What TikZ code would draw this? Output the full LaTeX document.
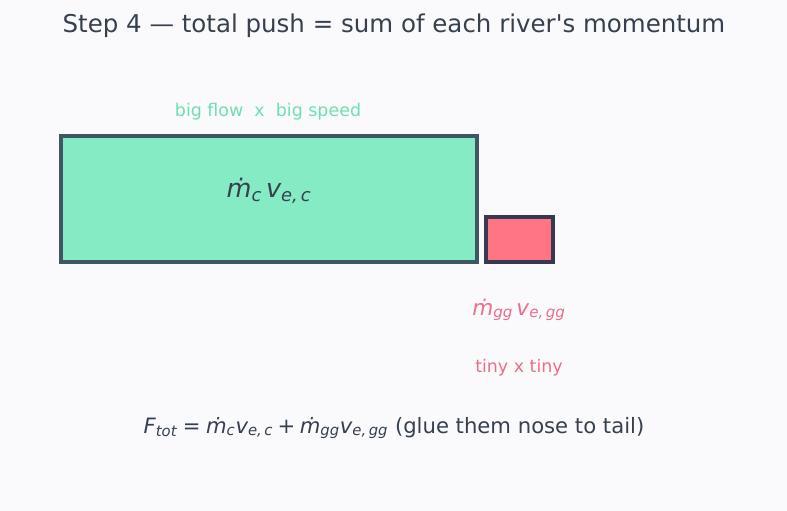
\documentclass[tikz,border=0pt]{standalone}
\usepackage{amsmath}
\usepackage{fontspec}
\setmainfont{DejaVu Sans}[Ligatures=TeXOff]
\usepackage{xcolor}
\usetikzlibrary{positioning}
\definecolor{pagebg}{HTML}{FAFAFD}
\definecolor{inkdark}{HTML}{37404F}
\definecolor{coreflow}{HTML}{84EBC4}
\definecolor{coreedge}{HTML}{3F5761}
\definecolor{coretext}{HTML}{6EDFB2}
\definecolor{ggflow}{HTML}{FF7586}
\definecolor{ggedge}{HTML}{363A4E}
\definecolor{ggtext}{HTML}{EB6E8A}
\newcommand{\mdot}{\textit{\.m}}
\newcommand{\vv}{\textit{v}}
\newcommand{\sub}[1]{_{\textit{#1}}}

\begin{document}
\begin{tikzpicture}[x=0.254mm, y=-0.254mm,
  lab/.style={anchor=base, inner sep=0pt},
  flowbox/.style={draw, line width=2.2pt}]
\fill[pagebg] (0,0) rectangle (787,511);
\useasboundingbox (0,0) rectangle (787,511);
\node[lab, text=inkdark, font=\fontsize{17.7}{20}\selectfont] (title) at (394,33)
  {Step 4 — total push = sum of each river's momentum};
\node[lab, text=coretext, font=\fontsize{12.6}{15}\selectfont] (bigcap) at (268,117)
  {big flow\ \ x\ \ big speed};
\draw[flowbox, fill=coreflow, draw=coreedge] (61,136) rectangle (477,262);
\node[lab, text=inkdark, font=\fontsize{18.5}{22}\selectfont] (corelab) at (269,198)
  {$\mdot\sub{c}\,\vv\sub{e,\,c}$};
\draw[flowbox, fill=ggflow, draw=ggedge] (486,217) rectangle (553,262);
\node[lab, text=ggtext, font=\fontsize{15.6}{18}\selectfont] (gglab) at (519,315)
  {$\mdot\sub{gg}\,\vv\sub{e,\,gg}$};
\node[lab, text=ggtext, font=\fontsize{12.6}{15}\selectfont] (ggcap) at (519,372)
  {tiny x tiny};
\node[lab, text=inkdark, font=\fontsize{15.3}{18}\selectfont] (total) at (394,433)
  {$\textit{F}\sub{tot}\mathrel{\text{=}}\mdot\sub{c}\vv\sub{e,\,c}\mathbin{\text{+}}\mdot\sub{gg}\vv\sub{e,\,gg}$ (glue them nose to tail)};
\end{tikzpicture}
\end{document}
